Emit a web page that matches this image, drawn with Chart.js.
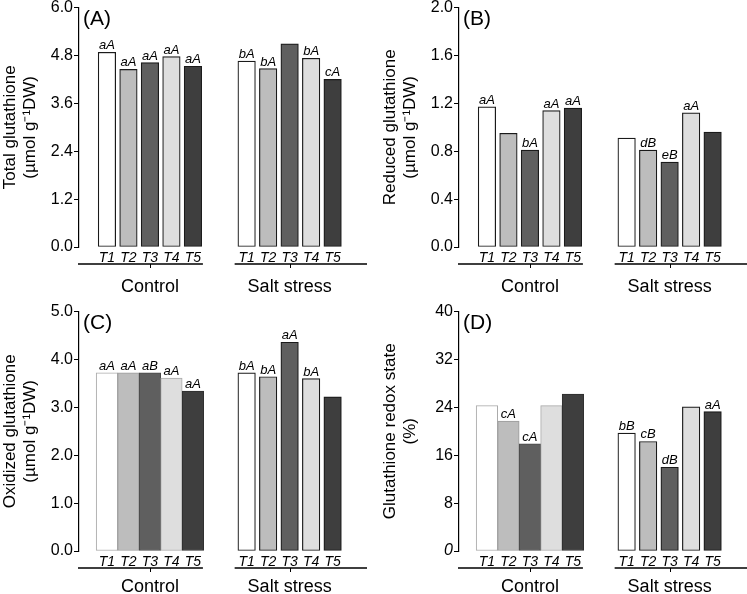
<!DOCTYPE html>
<html><head><meta charset="utf-8">
<script src="https://cdn.jsdelivr.net/npm/chart.js@4"></script>
<style>
html,body{margin:0;padding:0;background:#fff;}
#wrap{position:relative;width:747px;height:594px;overflow:hidden;background:#fff;}
.p{position:absolute;}
</style></head><body>
<div id="wrap">
<canvas class="p" id="cA" width="375" height="297" style="left:0;top:-3px"></canvas>
<canvas class="p" id="cB" width="375" height="297" style="left:380px;top:-3px"></canvas>
<canvas class="p" id="cC" width="375" height="297" style="left:0;top:301px"></canvas>
<canvas class="p" id="cD" width="375" height="297" style="left:380px;top:301px"></canvas>
</div>
<script>
// ---- data ----
const treatments = ['T1','T2','T3','T4','T5'];
const groups = ['Control','Salt stress'];

const totalControl = [4.88, 4.45, 4.62, 4.77, 4.53];
const totalSalt    = [4.66, 4.47, 5.09, 4.73, 4.20];
const totalLettersControl = ['aA','aA','aA','aA','aA'];
const totalLettersSalt    = ['bA','bA','','bA','cA'];

const reducedControl = [1.17, 0.95, 0.81, 1.14, 1.16];
const reducedSalt    = [0.91, 0.81, 0.71, 1.12, 0.96];
const reducedLettersControl = ['aA','','bA','aA','aA'];
const reducedLettersSalt    = ['','dB','eB','aA',''];

const oxidizedControl = [3.72, 3.72, 3.72, 3.61, 3.34];
const oxidizedSalt    = [3.72, 3.64, 4.36, 3.60, 3.22];
const oxidizedLettersControl = ['aA','aA','aB','aA','aA'];
const oxidizedLettersSalt    = ['bA','bA','aA','bA',''];

const redoxControl = [24.3, 21.7, 17.9, 24.3, 26.2];
const redoxSalt    = [19.7, 18.3, 14.0, 24.1, 23.3];
const redoxLettersControl = ['','cA','cA','',''];
const redoxLettersSalt    = ['bB','cB','dB','','aA'];

// ---- styling ----
const FONT = '"Liberation Sans", Arial, Helvetica, sans-serif';
const fills = ['#ffffff','#bdbdbd','#5f5f5f','#dedede','#3e3e3e'];
const softBorders = ['#aaaaaa','#9a9a9a','#4a4a4a','#a8a8a8','#2e2e2e'];
const SALT_SHIFT = 6.5;
const X_MIN = -1.3, X_MAX = 12.1;

const decor = {
  id: 'decor',
  afterDraw(chart, args, o) {
    const {ctx, chartArea, scales} = chart;
    const x = scales.x, y = scales.y;
    ctx.save();
    ctx.fillStyle = '#000';
    ctx.strokeStyle = '#000';
    // significance letters
    ctx.font = 'italic 13px ' + FONT;
    ctx.textAlign = 'center';
    ctx.textBaseline = 'alphabetic';
    chart.data.datasets.forEach((ds, di) => {
      const letters = o.letters[di];
      ds.data.forEach((pt, i) => {
        if (!letters[i]) return;
        ctx.fillText(letters[i], x.getPixelForValue(pt.x), y.getPixelForValue(pt.y) - 3);
      });
    });
    // group underlines, ticks and labels
    const y0 = chartArea.bottom + 17;
    ctx.lineWidth = 1.5;
    ctx.beginPath();
    ctx.moveTo(chartArea.left - 1, y0);
    ctx.lineTo(x.getPixelForValue(4) + 10, y0);
    ctx.moveTo(x.getPixelForValue(SALT_SHIFT) - 12, y0);
    ctx.lineTo(chartArea.right, y0);
    ctx.stroke();
    const centers = [x.getPixelForValue(2), x.getPixelForValue(SALT_SHIFT + 2)];
    ctx.lineWidth = 1;
    ctx.beginPath();
    centers.forEach(c => { ctx.moveTo(Math.round(c) + 0.5, y0); ctx.lineTo(Math.round(c) + 0.5, y0 + 4); });
    ctx.stroke();
    ctx.font = '18px ' + FONT;
    groups.forEach((g, i) => ctx.fillText(g, centers[i], y0 + o.groupGap));
    // panel label
    ctx.font = '21px ' + FONT;
    ctx.textAlign = 'left';
    ctx.textBaseline = 'middle';
    ctx.fillText(o.panel, chartArea.left + 4, chartArea.top + 12);
    ctx.restore();
  }
};

function makePanel(id, cfg) {
  const positions = treatments.map((t, i) => i).concat(treatments.map((t, i) => i + SALT_SHIFT));
  new Chart(document.getElementById(id), {
    type: 'bar',
    data: {
      datasets: [
        {
          data: cfg.ctrl.map((v, i) => ({x: i, y: v})),
          backgroundColor: fills,
          borderColor: cfg.contiguous ? softBorders : '#1a1a1a',
          borderWidth: cfg.contiguous ? 1 : 1.2,
          borderSkipped: false,
          barThickness: cfg.contiguous ? 21.5 : 17.5,
          grouped: false
        },
        {
          data: cfg.salt.map((v, i) => ({x: i + SALT_SHIFT, y: v})),
          backgroundColor: fills,
          borderColor: '#1a1a1a',
          borderWidth: 1.2,
          borderSkipped: false,
          barThickness: 17.5,
          grouped: false
        }
      ]
    },
    options: {
      responsive: false,
      animation: false,
      devicePixelRatio: 1,
      layout: {padding: {top: 0, right: 8, bottom: 0, left: 0}},
      plugins: {
        legend: {display: false},
        tooltip: {enabled: false},
        decor: {letters: [cfg.ctrlLetters, cfg.saltLetters], panel: cfg.panel, groupGap: cfg.groupGap}
      },
      scales: {
        x: {
          type: 'linear',
          offset: false,
          min: X_MIN, max: X_MAX,
          grid: {display: false, drawTicks: false, tickLength: 0},
          border: {display: false},
          afterBuildTicks: s => { s.ticks = positions.map(v => ({value: v})); },
          afterFit: s => { s.height = 47; },
          ticks: {
            autoSkip: false, maxRotation: 0, minRotation: 0,
            padding: 3,
            color: '#000',
            font: {family: FONT, size: 14, style: 'italic'},
            callback: (v, i) => treatments[i % treatments.length]
          }
        },
        y: {
          type: 'linear',
          min: 0, max: cfg.yMax,
          afterFit: s => { s.width = 79; },
          grid: {drawOnChartArea: false, drawTicks: true, tickLength: 5, color: '#000', lineWidth: 1},
          border: {display: true, color: '#000', width: 1.2},
          ticks: {
            stepSize: cfg.yStep,
            padding: 1,
            color: '#000',
            font: ctx => ({family: FONT, size: 16, style: (cfg.italicZero && ctx.tick && ctx.tick.value === 0) ? 'italic' : 'normal'}),
            callback: v => cfg.fmt(v)
          },
          title: {
            display: true,
            text: cfg.yTitle,
            color: '#000',
            font: {family: FONT, size: 17, lineHeight: 1.2},
            padding: {top: 0, bottom: 0}
          }
        }
      }
    },
    plugins: [decor]
  });
}

makePanel('cA', {
  panel: '(A)', yTitle: ['Total glutathione', '(µmol g\u207B\u00B9DW)'],
  yMax: 6, yStep: 1.2, fmt: v => v.toFixed(1), groupGap: 28,
  ctrl: totalControl, salt: totalSalt,
  ctrlLetters: totalLettersControl, saltLetters: totalLettersSalt, contiguous: false
});
makePanel('cB', {
  panel: '(B)', yTitle: ['Reduced glutathione', '(µmol g\u207B\u00B9DW)'],
  yMax: 2, yStep: 0.4, fmt: v => v.toFixed(1), groupGap: 28,
  ctrl: reducedControl, salt: reducedSalt,
  ctrlLetters: reducedLettersControl, saltLetters: reducedLettersSalt, contiguous: false
});
makePanel('cC', {
  panel: '(C)', yTitle: ['Oxidized glutathione', '(µmol g\u207B\u00B9DW)'],
  yMax: 5, yStep: 1, fmt: v => v.toFixed(1), groupGap: 24,
  ctrl: oxidizedControl, salt: oxidizedSalt,
  ctrlLetters: oxidizedLettersControl, saltLetters: oxidizedLettersSalt, contiguous: true
});
makePanel('cD', {
  panel: '(D)', yTitle: ['Glutathione redox state', '(%)'],
  yMax: 40, yStep: 8, fmt: v => String(Math.round(v)), italicZero: true, groupGap: 24,
  ctrl: redoxControl, salt: redoxSalt,
  ctrlLetters: redoxLettersControl, saltLetters: redoxLettersSalt, contiguous: true
});
</script>
</body></html>
